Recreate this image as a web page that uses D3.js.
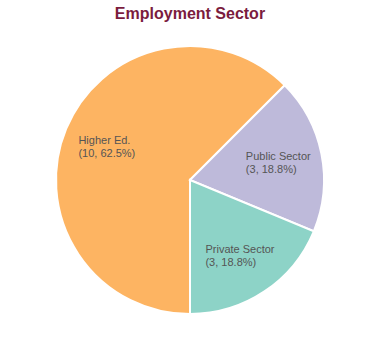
<!DOCTYPE html>
<html>
<head>
<meta charset="utf-8">
<script src="https://cdn.jsdelivr.net/npm/d3@7"></script>
<style>
  body { margin: 0; background: #fff; }
  text { font-family: "Liberation Sans", Arial, sans-serif; }
</style>
</head>
<body>
<div id="pie"></div>
<script>
// data
var sectors = ["Higher Ed.", "Public Sector", "Private Sector"];
var counts = [10, 3, 3];
var colors = ["#fdb462", "#bebada", "#8dd3c7"];

var width = 380, height = 360,
    cx = 190, cy = 180, radius = 134;

var svg = d3.select("#pie").append("svg")
    .attr("width", width)
    .attr("height", height);

// title
svg.append("text")
    .attr("x", width / 2)
    .attr("y", 19)
    .attr("text-anchor", "middle")
    .style("font-size", "16px")
    .style("font-weight", "bold")
    .style("fill", "#7b1c3e")
    .text("Employment Sector");

var total = d3.sum(counts);
var data = sectors.map(function(s, i) { return {name: s, value: counts[i], color: colors[i]}; });

var pie = d3.pie()
    .value(function(d) { return d.value; })
    .sort(null)
    .startAngle(Math.PI)
    .endAngle(3 * Math.PI);

var arc = d3.arc().innerRadius(0).outerRadius(radius);
var labelArc = d3.arc().innerRadius(90).outerRadius(90);

var g = svg.append("g")
    .attr("transform", "translate(" + cx + "," + cy + ")");

g.selectAll(".slice")
    .data(pie(data))
  .enter().append("path")
    .attr("class", "slice")
    .attr("d", arc)
    .style("fill", function(d) { return d.data.color; })
    .style("stroke", "#fff")
    .style("stroke-width", 2);

// labels, block centered on the label arc, lines left aligned
var labels = g.selectAll(".label")
    .data(pie(data))
  .enter().append("text")
    .attr("class", "label")
    .style("font-size", "11px")
    .style("fill", "#555");

labels.each(function(d) {
  var t = d3.select(this);
  var pct = (d.data.value / total * 100).toFixed(1);
  var lines = [d.data.name, "(" + d.data.value + ", " + pct + "%)"];
  var c = labelArc.centroid(d);
  var spans = lines.map(function(l, i) {
    return t.append("tspan").attr("dy", i ? 13 : 0).text(l);
  });
  var w = d3.max(spans, function(s) { return s.node().getComputedTextLength(); });
  spans.forEach(function(s) { s.attr("x", c[0] - w / 2); });
  t.attr("y", c[1] - 2);
});
</script>
</body>
</html>
